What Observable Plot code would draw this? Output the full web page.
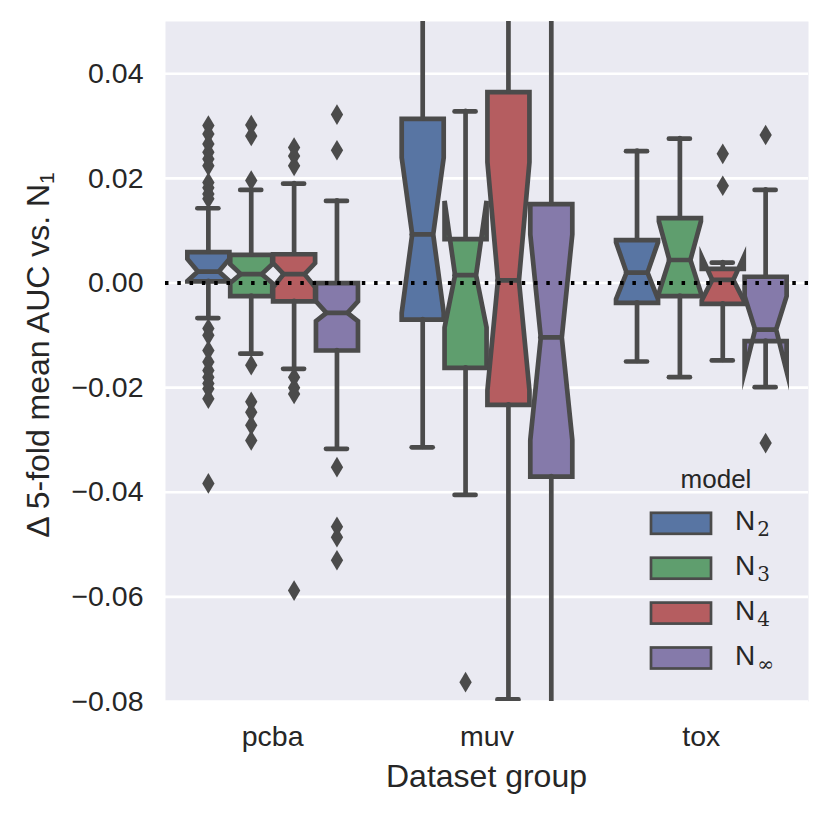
<!DOCTYPE html>
<html>
<head>
<meta charset="utf-8">
<script src="https://cdn.jsdelivr.net/npm/d3@7"></script>
<script src="https://cdn.jsdelivr.net/npm/@observablehq/plot@0.6"></script>
<style>
html, body { margin: 0; padding: 0; background: #ffffff; }
#wrap { width: 831px; height: 816px; }
</style>
</head>
<body>
<div id="wrap"></div>
<script>
// ---------- data ----------
const groups = ["pcba", "muv", "tox"];
const models = ["N2", "N3", "N4", "N∞"];
const modelSubs = ["2", "3", "4", "∞"];
const palette = ["#5875a3", "#5f9e6e", "#b55d60", "#857aaa"];
const yTicks = [-0.08, -0.06, -0.04, -0.02, 0, 0.02, 0.04];

// one entry per box, group-major order (pcba N2..N∞, muv N2..N∞, tox N2..N∞)
const boxGroup = [0, 0, 0, 0, 1, 1, 1, 1, 2, 2, 2, 2];
const boxModel = [0, 1, 2, 3, 0, 1, 2, 3, 0, 1, 2, 3];

const q1 =        [0.0003, -0.0025, -0.0035, -0.0129,  -0.0070, -0.0162, -0.0233, -0.0370,  -0.0038, -0.0025, -0.0040, -0.0111];
const notchLo =   [0.0004,  0.0000, -0.0008, -0.0073,  -0.0057, -0.0085, -0.0205, -0.0300,  -0.0031, -0.0019, -0.0033, -0.0169];
const median =    [0.0022,  0.0017,  0.0017, -0.0057,   0.0093,  0.0015,  0.0005, -0.0104,   0.0020,  0.0044,  0.0006, -0.0089];
const notchHi =   [0.0046,  0.0036,  0.0038, -0.0035,   0.0240,  0.0157,  0.0231,  0.0093,   0.0078,  0.0118,  0.0050, -0.0025];
const q3 =        [0.0059,  0.0054,  0.0055,  0.0000,   0.0314,  0.0084,  0.0365,  0.0151,   0.0082,  0.0124,  0.0027,  0.0012];
const whiskerLo = [-0.0067, -0.0135, -0.0164, -0.0317, -0.0314, -0.0405, -0.0796, -0.0950,  -0.0150, -0.0180, -0.0148, -0.0199];
const whiskerHi = [0.0143,  0.0178,  0.0190,  0.0157,   0.0620,  0.0328,  0.0700,  0.0750,   0.0252,  0.0276,  0.0039,  0.0178];

const outliers = [
  [0.0301, 0.0285, 0.0266, 0.0250, 0.0237, 0.0224, 0.0192, 0.0182, 0.0170, 0.0161,
   -0.0087, -0.0100, -0.0129, -0.0151, -0.0167, -0.0180, -0.0192, -0.0202, -0.0221, -0.0383],
  [0.0302, 0.0281, 0.0196, -0.0157, -0.0227, -0.0247, -0.0272, -0.0301],
  [0.0259, 0.0243, 0.0224, -0.0180, -0.0200, -0.0212, -0.0588],
  [0.0322, 0.0254, -0.0352, -0.0466, -0.0486, -0.0530],
  [],
  [-0.0763],
  [],
  [],
  [],
  [],
  [0.0247, 0.0186],
  [0.0283, -0.0306]
];

// ---------- derived tables ----------
const hueWidth = 0.8 / models.length;
const bw = hueWidth * 0.98;
const gray = "#4b4b4b";

const boxes = boxGroup.map((g, i) => {
  const m = boxModel[i];
  return {
    i, model: models[m],
    pos: g - 0.4 + hueWidth * (m + 0.5),
    q1: q1[i], nlo: notchLo[i], med: median[i], nhi: notchHi[i], q3: q3[i],
    wlo: whiskerLo[i], whi: whiskerHi[i]
  };
});

const poly = boxes.flatMap(b => {
  const L = b.pos - bw / 2, R = b.pos + bw / 2, cl = b.pos - bw / 4, cr = b.pos + bw / 4;
  return [
    [L, b.q1], [R, b.q1], [R, b.nlo], [cr, b.med], [R, b.nhi], [R, b.q3],
    [L, b.q3], [L, b.nhi], [cl, b.med], [L, b.nlo]
  ].map(([x, y]) => ({x, y, id: b.i, model: b.model}));
});

const whiskers = boxes.flatMap(b => [
  {x: b.pos, y1: b.q1, y2: b.wlo},
  {x: b.pos, y1: b.q3, y2: b.whi}
]);
const caps = boxes.flatMap(b => [
  {x1: b.pos - bw / 4, x2: b.pos + bw / 4, y: b.wlo},
  {x1: b.pos - bw / 4, x2: b.pos + bw / 4, y: b.whi}
]);
const fliers = boxes.flatMap(b => outliers[b.i].map(v => ({x: b.pos, y: v})));

const thinDiamond = {
  draw(context, size) {
    const r = Math.sqrt(size / Math.PI);
    const w = r * 0.6;
    context.moveTo(0, -r);
    context.lineTo(w, 0);
    context.lineTo(0, r);
    context.lineTo(-w, 0);
    context.closePath();
  }
};

const font = "'Liberation Sans', Arial, Helvetica, sans-serif";

const chart = Plot.plot({
  width: 831,
  height: 816,
  marginLeft: 165,
  marginRight: 23,
  marginTop: 21,
  marginBottom: 115,
  style: {fontFamily: font, fontSize: "28.5px", color: "#262626", background: "transparent", overflow: "visible"},
  x: {domain: [-0.5, 2.5], ticks: [0, 1, 2], tickFormat: i => groups[i], tickSize: 0, tickPadding: 24, label: null},
  y: {domain: [-0.08, 0.05], ticks: yTicks, tickFormat: d3.format(".2f"), tickSize: 0, tickPadding: 22, label: null},
  color: {domain: models, range: palette},
  marks: [
    Plot.frame({fill: "#eaeaf2", stroke: "none"}),
    Plot.ruleY(yTicks, {stroke: "#ffffff", strokeWidth: 2.6}),
    Plot.line(poly, {x: "x", y: "y", z: "id", fill: "model", stroke: gray, strokeWidth: 4.7,
      curve: "linear-closed", strokeLinejoin: "miter", strokeMiterlimit: 10, clip: true}),
    Plot.ruleX(whiskers, {x: "x", y1: "y1", y2: "y2", stroke: gray, strokeWidth: 4.7, strokeLinecap: "round", clip: true}),
    Plot.ruleY(caps, {x1: "x1", x2: "x2", y: "y", stroke: gray, strokeWidth: 4.7, strokeLinecap: "round", clip: true}),
    Plot.ruleY(boxes, {x1: b => b.pos - bw / 4, x2: b => b.pos + bw / 4, y: "med", stroke: gray, strokeWidth: 4.7, strokeLinecap: "round"}),
    Plot.dot(fliers, {x: "x", y: "y", r: 10.3, symbol: thinDiamond, fill: gray, stroke: "none", clip: true}),
    Plot.ruleY([0], {stroke: "#000000", strokeWidth: 4, strokeDasharray: "3.5,8.8"})
  ]
});

// ---------- axis titles and legend ----------
const svg = d3.select(chart);

const yl = svg.append("text")
  .attr("transform", "translate(48.5,355) rotate(-90)")
  .attr("text-anchor", "middle")
  .attr("font-family", font)
  .attr("font-size", 32)
  .attr("fill", "#262626");
yl.append("tspan").text("Δ 5-fold mean AUC vs. N");
yl.append("tspan").attr("dy", "0.25em").attr("font-size", 21).text("1");

svg.append("text")
  .attr("x", 486.5).attr("y", 787)
  .attr("text-anchor", "middle")
  .attr("font-family", font)
  .attr("font-size", 32)
  .attr("fill", "#262626")
  .text("Dataset group");

const leg = svg.append("g").attr("font-family", font).attr("fill", "#262626");
leg.append("text").attr("x", 716).attr("y", 488).attr("text-anchor", "middle")
  .attr("font-size", 26).text("model");
models.forEach((m, k) => {
  const cy = 523.3 + k * 44.9;
  leg.append("rect").attr("x", 651).attr("y", cy - 10.5).attr("width", 60).attr("height", 21)
    .attr("fill", palette[k]).attr("stroke", gray).attr("stroke-width", 2.7);
  const t = leg.append("text").attr("x", 735).attr("y", cy + 7).attr("font-size", 28)
    .attr("text-anchor", "start");
  t.append("tspan").text("N");
  t.append("tspan").attr("dx", 2).attr("dy", 6).attr("font-size", 20)
    .attr("font-family", "'DejaVu Serif', 'Liberation Serif', serif").text(modelSubs[k]);
});

document.getElementById("wrap").appendChild(chart);
</script>
</body>
</html>
